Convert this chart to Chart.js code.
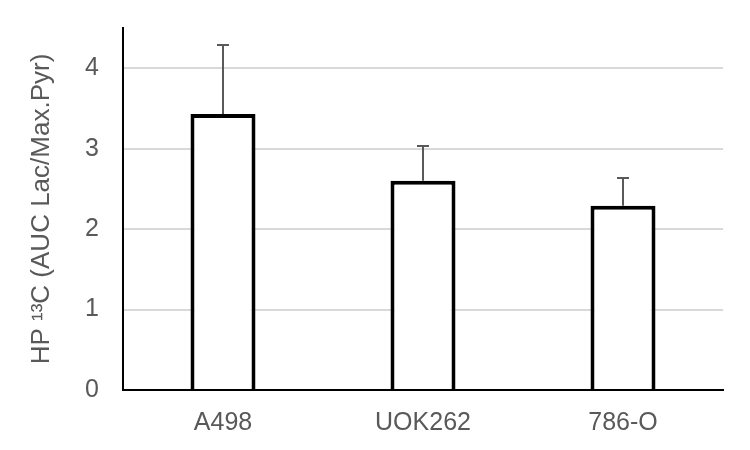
<!DOCTYPE html>
<html>
<head>
<meta charset="utf-8">
<script src="https://cdn.jsdelivr.net/npm/chart.js@4"></script>
<style>
html,body{margin:0;padding:0;background:#fff;}
#wrap{width:750px;height:450px;}
</style>
</head>
<body>
<div id="wrap"><canvas id="c" width="750" height="450"></canvas></div>
<script>
const categories = ['A498', 'UOK262', '786-O'];
const means = [3.43, 2.60, 2.29];
const errorsPlus = [0.86, 0.43, 0.34];
const yTicks = [0, 1, 2, 3, 4];
const yTitle = 'HP \u00B9\u00B3C (AUC Lac/Max.Pyr)';

const errorBarPlugin = {
  id: 'errorBars',
  afterDatasetsDraw(chart) {
    const ctx = chart.ctx;
    const meta = chart.getDatasetMeta(0);
    const y = chart.scales.y;
    ctx.save();
    ctx.strokeStyle = '#595959';
    ctx.lineWidth = 2;
    meta.data.forEach((bar, i) => {
      const x = Math.round(bar.x);
      const y0 = y.getPixelForValue(means[i]);
      const y1 = Math.round(y.getPixelForValue(means[i] + errorsPlus[i]));
      ctx.beginPath();
      ctx.moveTo(x, y0);
      ctx.lineTo(x, y1);
      ctx.moveTo(x - 6, y1);
      ctx.lineTo(x + 6, y1);
      ctx.stroke();
    });
    ctx.restore();
  }
};

new Chart(document.getElementById('c'), {
  type: 'bar',
  data: {
    labels: categories,
    datasets: [{
      data: means,
      backgroundColor: '#ffffff',
      borderColor: '#000000',
      borderWidth: 4,
      borderSkipped: 'start',
      categoryPercentage: 1,
      barPercentage: 0.325
    }]
  },
  options: {
    responsive: false,
    animation: false,
    devicePixelRatio: 1,
    layout: { padding: { top: 28, right: 27, left: 0, bottom: 0 } },
    plugins: { legend: { display: false }, tooltip: { enabled: false } },
    scales: {
      x: {
        grid: { display: false, drawTicks: false },
        border: { display: true, color: '#000000', width: 2 },
        ticks: { color: '#595959', font: { family: 'Liberation Sans', size: 25 }, padding: 18 },
        afterFit(s) { s.height = 60; s.paddingLeft = 0; s.paddingRight = 0; }
      },
      y: {
        min: 0,
        max: 4.5,
        grid: { color: '#d9d9d9', lineWidth: 2, drawTicks: false },
        border: { display: true, color: '#000000', width: 2 },
        afterBuildTicks(s) { s.ticks = yTicks.map(v => ({ value: v })); },
        ticks: { color: '#595959', font: { family: 'Liberation Sans', size: 25 }, padding: 24 },
        title: {
          display: true,
          text: yTitle,
          color: '#595959',
          font: { family: 'Liberation Sans', size: 26, weight: 'normal' },
          padding: { top: 26, bottom: 0 }
        },
        afterFit(s) { s.width = 123; s.paddingTop = 0; s.paddingBottom = 0; }
      }
    }
  },
  plugins: [errorBarPlugin]
});
</script>
</body>
</html>
